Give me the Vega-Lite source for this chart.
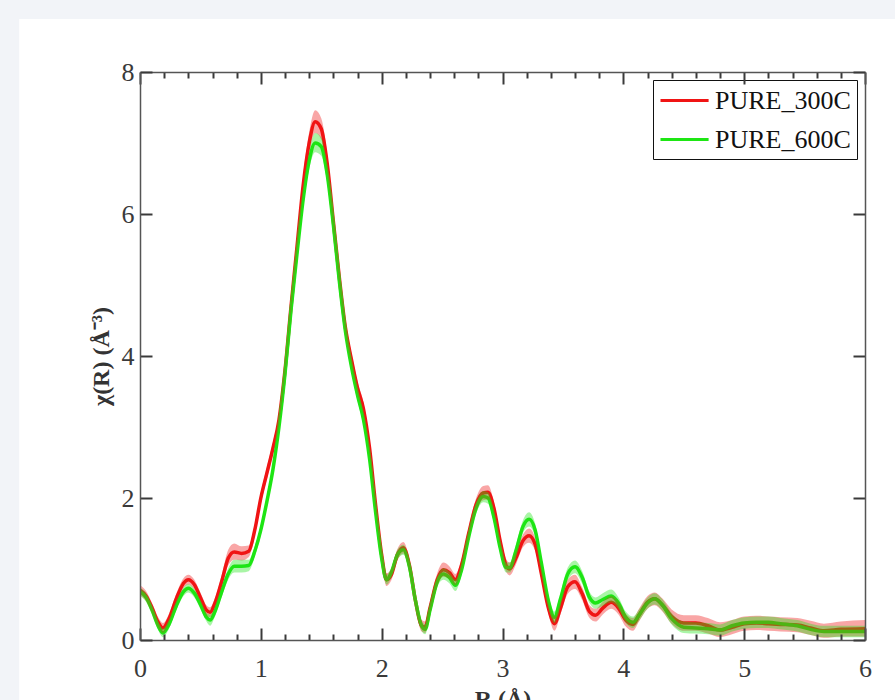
{
  "$schema": "https://vega.github.io/schema/vega-lite/v6.json",
  "autosize": "none",
  "width": 725,
  "height": 568,
  "padding": {"left": 140, "top": 72, "right": 30, "bottom": 60},
  "background": "#f2f4f8",
  "config": {
    "view": {"stroke": null},
    "font": "Liberation Serif",
    "axis": {
      "grid": false,
      "domainColor": "#555555",
      "domainWidth": 1.5,
      "tickColor": "#3a3a3a",
      "tickWidth": 2,
      "labelFont": "Liberation Serif",
      "labelFontSize": 26,
      "labelColor": "#3a3a3a",
      "labelFlush": false,
      "labelOverlap": false,
      "titleFont": "Liberation Serif",
      "titleFontWeight": "bold",
      "titleFontSize": 24,
      "titleColor": "#333333"
    },
    "legend": {
      "labelFont": "Liberation Serif",
      "labelFontSize": 26,
      "labelColor": "#111111"
    }
  },
  "datasets": {
    "panel": [{"x0": -1.0, "x1": 6.6, "y0": 8.746, "y1": -1.6}],
    "curves": [
      {"x": 0.00, "series": "PURE_300C", "y": 0.70, "lo": 0.63, "hi": 0.77},
      {"x": 0.05, "series": "PURE_300C", "y": 0.62, "lo": 0.55, "hi": 0.69},
      {"x": 0.10, "series": "PURE_300C", "y": 0.45, "lo": 0.38, "hi": 0.52},
      {"x": 0.15, "series": "PURE_300C", "y": 0.25, "lo": 0.18, "hi": 0.32},
      {"x": 0.19, "series": "PURE_300C", "y": 0.17, "lo": 0.10, "hi": 0.24},
      {"x": 0.24, "series": "PURE_300C", "y": 0.30, "lo": 0.23, "hi": 0.37},
      {"x": 0.30, "series": "PURE_300C", "y": 0.58, "lo": 0.51, "hi": 0.65},
      {"x": 0.36, "series": "PURE_300C", "y": 0.80, "lo": 0.73, "hi": 0.87},
      {"x": 0.40, "series": "PURE_300C", "y": 0.85, "lo": 0.78, "hi": 0.92},
      {"x": 0.45, "series": "PURE_300C", "y": 0.78, "lo": 0.71, "hi": 0.85},
      {"x": 0.50, "series": "PURE_300C", "y": 0.60, "lo": 0.53, "hi": 0.67},
      {"x": 0.55, "series": "PURE_300C", "y": 0.42, "lo": 0.35, "hi": 0.49},
      {"x": 0.58, "series": "PURE_300C", "y": 0.39, "lo": 0.32, "hi": 0.46},
      {"x": 0.62, "series": "PURE_300C", "y": 0.52, "lo": 0.45, "hi": 0.59},
      {"x": 0.68, "series": "PURE_300C", "y": 0.85, "lo": 0.76, "hi": 0.94},
      {"x": 0.73, "series": "PURE_300C", "y": 1.15, "lo": 1.05, "hi": 1.27},
      {"x": 0.78, "series": "PURE_300C", "y": 1.24, "lo": 1.13, "hi": 1.36},
      {"x": 0.84, "series": "PURE_300C", "y": 1.22, "lo": 1.12, "hi": 1.32},
      {"x": 0.90, "series": "PURE_300C", "y": 1.25, "lo": 1.17, "hi": 1.33},
      {"x": 0.95, "series": "PURE_300C", "y": 1.55, "lo": 1.47, "hi": 1.63},
      {"x": 1.00, "series": "PURE_300C", "y": 2.00, "lo": 1.92, "hi": 2.08},
      {"x": 1.05, "series": "PURE_300C", "y": 2.35, "lo": 2.27, "hi": 2.43},
      {"x": 1.10, "series": "PURE_300C", "y": 2.70, "lo": 2.62, "hi": 2.78},
      {"x": 1.15, "series": "PURE_300C", "y": 3.10, "lo": 3.02, "hi": 3.18},
      {"x": 1.20, "series": "PURE_300C", "y": 3.80, "lo": 3.71, "hi": 3.89},
      {"x": 1.25, "series": "PURE_300C", "y": 4.70, "lo": 4.60, "hi": 4.80},
      {"x": 1.30, "series": "PURE_300C", "y": 5.55, "lo": 5.44, "hi": 5.66},
      {"x": 1.35, "series": "PURE_300C", "y": 6.40, "lo": 6.28, "hi": 6.53},
      {"x": 1.40, "series": "PURE_300C", "y": 7.00, "lo": 6.86, "hi": 7.15},
      {"x": 1.45, "series": "PURE_300C", "y": 7.30, "lo": 7.14, "hi": 7.46},
      {"x": 1.50, "series": "PURE_300C", "y": 7.20, "lo": 7.05, "hi": 7.35},
      {"x": 1.55, "series": "PURE_300C", "y": 6.70, "lo": 6.57, "hi": 6.83},
      {"x": 1.60, "series": "PURE_300C", "y": 5.90, "lo": 5.79, "hi": 6.01},
      {"x": 1.65, "series": "PURE_300C", "y": 5.10, "lo": 5.00, "hi": 5.20},
      {"x": 1.70, "series": "PURE_300C", "y": 4.40, "lo": 4.31, "hi": 4.49},
      {"x": 1.75, "series": "PURE_300C", "y": 3.95, "lo": 3.86, "hi": 4.04},
      {"x": 1.80, "series": "PURE_300C", "y": 3.55, "lo": 3.46, "hi": 3.64},
      {"x": 1.85, "series": "PURE_300C", "y": 3.25, "lo": 3.16, "hi": 3.34},
      {"x": 1.90, "series": "PURE_300C", "y": 2.70, "lo": 2.62, "hi": 2.78},
      {"x": 1.95, "series": "PURE_300C", "y": 1.90, "lo": 1.82, "hi": 1.98},
      {"x": 2.00, "series": "PURE_300C", "y": 1.20, "lo": 1.12, "hi": 1.28},
      {"x": 2.04, "series": "PURE_300C", "y": 0.85, "lo": 0.76, "hi": 0.94},
      {"x": 2.08, "series": "PURE_300C", "y": 0.92, "lo": 0.84, "hi": 1.00},
      {"x": 2.13, "series": "PURE_300C", "y": 1.20, "lo": 1.12, "hi": 1.28},
      {"x": 2.18, "series": "PURE_300C", "y": 1.30, "lo": 1.22, "hi": 1.38},
      {"x": 2.23, "series": "PURE_300C", "y": 1.05, "lo": 0.97, "hi": 1.13},
      {"x": 2.28, "series": "PURE_300C", "y": 0.55, "lo": 0.47, "hi": 0.63},
      {"x": 2.33, "series": "PURE_300C", "y": 0.20, "lo": 0.12, "hi": 0.28},
      {"x": 2.36, "series": "PURE_300C", "y": 0.18, "lo": 0.10, "hi": 0.26},
      {"x": 2.40, "series": "PURE_300C", "y": 0.45, "lo": 0.37, "hi": 0.53},
      {"x": 2.46, "series": "PURE_300C", "y": 0.85, "lo": 0.76, "hi": 0.94},
      {"x": 2.51, "series": "PURE_300C", "y": 0.99, "lo": 0.89, "hi": 1.09},
      {"x": 2.56, "series": "PURE_300C", "y": 0.95, "lo": 0.86, "hi": 1.04},
      {"x": 2.61, "series": "PURE_300C", "y": 0.85, "lo": 0.77, "hi": 0.93},
      {"x": 2.66, "series": "PURE_300C", "y": 1.05, "lo": 0.97, "hi": 1.13},
      {"x": 2.72, "series": "PURE_300C", "y": 1.50, "lo": 1.42, "hi": 1.58},
      {"x": 2.78, "series": "PURE_300C", "y": 1.90, "lo": 1.81, "hi": 1.99},
      {"x": 2.84, "series": "PURE_300C", "y": 2.07, "lo": 1.97, "hi": 2.17},
      {"x": 2.88, "series": "PURE_300C", "y": 2.08, "lo": 1.98, "hi": 2.18},
      {"x": 2.93, "series": "PURE_300C", "y": 1.85, "lo": 1.76, "hi": 1.94},
      {"x": 2.98, "series": "PURE_300C", "y": 1.40, "lo": 1.32, "hi": 1.48},
      {"x": 3.03, "series": "PURE_300C", "y": 1.05, "lo": 0.96, "hi": 1.14},
      {"x": 3.06, "series": "PURE_300C", "y": 1.00, "lo": 0.91, "hi": 1.09},
      {"x": 3.11, "series": "PURE_300C", "y": 1.15, "lo": 1.06, "hi": 1.24},
      {"x": 3.17, "series": "PURE_300C", "y": 1.40, "lo": 1.31, "hi": 1.49},
      {"x": 3.22, "series": "PURE_300C", "y": 1.47, "lo": 1.37, "hi": 1.57},
      {"x": 3.27, "series": "PURE_300C", "y": 1.35, "lo": 1.26, "hi": 1.44},
      {"x": 3.32, "series": "PURE_300C", "y": 0.95, "lo": 0.87, "hi": 1.03},
      {"x": 3.38, "series": "PURE_300C", "y": 0.45, "lo": 0.37, "hi": 0.53},
      {"x": 3.43, "series": "PURE_300C", "y": 0.23, "lo": 0.13, "hi": 0.33},
      {"x": 3.48, "series": "PURE_300C", "y": 0.45, "lo": 0.36, "hi": 0.54},
      {"x": 3.54, "series": "PURE_300C", "y": 0.75, "lo": 0.65, "hi": 0.85},
      {"x": 3.60, "series": "PURE_300C", "y": 0.82, "lo": 0.72, "hi": 0.92},
      {"x": 3.66, "series": "PURE_300C", "y": 0.65, "lo": 0.56, "hi": 0.74},
      {"x": 3.72, "series": "PURE_300C", "y": 0.40, "lo": 0.31, "hi": 0.49},
      {"x": 3.77, "series": "PURE_300C", "y": 0.35, "lo": 0.26, "hi": 0.44},
      {"x": 3.83, "series": "PURE_300C", "y": 0.45, "lo": 0.36, "hi": 0.54},
      {"x": 3.90, "series": "PURE_300C", "y": 0.53, "lo": 0.44, "hi": 0.62},
      {"x": 3.96, "series": "PURE_300C", "y": 0.45, "lo": 0.36, "hi": 0.54},
      {"x": 4.02, "series": "PURE_300C", "y": 0.28, "lo": 0.19, "hi": 0.37},
      {"x": 4.08, "series": "PURE_300C", "y": 0.22, "lo": 0.13, "hi": 0.31},
      {"x": 4.13, "series": "PURE_300C", "y": 0.35, "lo": 0.26, "hi": 0.44},
      {"x": 4.20, "series": "PURE_300C", "y": 0.53, "lo": 0.44, "hi": 0.62},
      {"x": 4.26, "series": "PURE_300C", "y": 0.58, "lo": 0.49, "hi": 0.67},
      {"x": 4.32, "series": "PURE_300C", "y": 0.50, "lo": 0.41, "hi": 0.59},
      {"x": 4.40, "series": "PURE_300C", "y": 0.33, "lo": 0.23, "hi": 0.43},
      {"x": 4.50, "series": "PURE_300C", "y": 0.24, "lo": 0.13, "hi": 0.35},
      {"x": 4.60, "series": "PURE_300C", "y": 0.24, "lo": 0.13, "hi": 0.35},
      {"x": 4.70, "series": "PURE_300C", "y": 0.20, "lo": 0.09, "hi": 0.31},
      {"x": 4.80, "series": "PURE_300C", "y": 0.14, "lo": 0.04, "hi": 0.25},
      {"x": 4.90, "series": "PURE_300C", "y": 0.18, "lo": 0.08, "hi": 0.28},
      {"x": 5.00, "series": "PURE_300C", "y": 0.23, "lo": 0.13, "hi": 0.33},
      {"x": 5.10, "series": "PURE_300C", "y": 0.24, "lo": 0.14, "hi": 0.34},
      {"x": 5.20, "series": "PURE_300C", "y": 0.23, "lo": 0.13, "hi": 0.33},
      {"x": 5.30, "series": "PURE_300C", "y": 0.22, "lo": 0.12, "hi": 0.32},
      {"x": 5.44, "series": "PURE_300C", "y": 0.21, "lo": 0.11, "hi": 0.31},
      {"x": 5.55, "series": "PURE_300C", "y": 0.17, "lo": 0.07, "hi": 0.27},
      {"x": 5.66, "series": "PURE_300C", "y": 0.13, "lo": 0.03, "hi": 0.23},
      {"x": 5.80, "series": "PURE_300C", "y": 0.15, "lo": 0.05, "hi": 0.26},
      {"x": 6.00, "series": "PURE_300C", "y": 0.16, "lo": 0.05, "hi": 0.28},
      {"x": 0.00, "series": "PURE_600C", "y": 0.68, "lo": 0.62, "hi": 0.74},
      {"x": 0.05, "series": "PURE_600C", "y": 0.60, "lo": 0.54, "hi": 0.66},
      {"x": 0.10, "series": "PURE_600C", "y": 0.42, "lo": 0.36, "hi": 0.48},
      {"x": 0.15, "series": "PURE_600C", "y": 0.20, "lo": 0.14, "hi": 0.26},
      {"x": 0.19, "series": "PURE_600C", "y": 0.10, "lo": 0.04, "hi": 0.16},
      {"x": 0.24, "series": "PURE_600C", "y": 0.22, "lo": 0.16, "hi": 0.28},
      {"x": 0.30, "series": "PURE_600C", "y": 0.48, "lo": 0.42, "hi": 0.54},
      {"x": 0.36, "series": "PURE_600C", "y": 0.68, "lo": 0.62, "hi": 0.74},
      {"x": 0.40, "series": "PURE_600C", "y": 0.73, "lo": 0.67, "hi": 0.79},
      {"x": 0.45, "series": "PURE_600C", "y": 0.66, "lo": 0.60, "hi": 0.72},
      {"x": 0.50, "series": "PURE_600C", "y": 0.50, "lo": 0.44, "hi": 0.56},
      {"x": 0.55, "series": "PURE_600C", "y": 0.32, "lo": 0.26, "hi": 0.38},
      {"x": 0.58, "series": "PURE_600C", "y": 0.28, "lo": 0.20, "hi": 0.36},
      {"x": 0.62, "series": "PURE_600C", "y": 0.40, "lo": 0.33, "hi": 0.47},
      {"x": 0.68, "series": "PURE_600C", "y": 0.70, "lo": 0.63, "hi": 0.77},
      {"x": 0.73, "series": "PURE_600C", "y": 0.93, "lo": 0.85, "hi": 1.01},
      {"x": 0.78, "series": "PURE_600C", "y": 1.04, "lo": 0.95, "hi": 1.13},
      {"x": 0.84, "series": "PURE_600C", "y": 1.04, "lo": 0.95, "hi": 1.13},
      {"x": 0.90, "series": "PURE_600C", "y": 1.05, "lo": 0.97, "hi": 1.13},
      {"x": 0.95, "series": "PURE_600C", "y": 1.25, "lo": 1.18, "hi": 1.32},
      {"x": 1.00, "series": "PURE_600C", "y": 1.55, "lo": 1.48, "hi": 1.62},
      {"x": 1.05, "series": "PURE_600C", "y": 1.95, "lo": 1.88, "hi": 2.02},
      {"x": 1.10, "series": "PURE_600C", "y": 2.40, "lo": 2.33, "hi": 2.47},
      {"x": 1.15, "series": "PURE_600C", "y": 3.00, "lo": 2.93, "hi": 3.07},
      {"x": 1.20, "series": "PURE_600C", "y": 3.75, "lo": 3.67, "hi": 3.83},
      {"x": 1.25, "series": "PURE_600C", "y": 4.65, "lo": 4.56, "hi": 4.74},
      {"x": 1.30, "series": "PURE_600C", "y": 5.45, "lo": 5.35, "hi": 5.55},
      {"x": 1.35, "series": "PURE_600C", "y": 6.20, "lo": 6.09, "hi": 6.31},
      {"x": 1.40, "series": "PURE_600C", "y": 6.75, "lo": 6.63, "hi": 6.88},
      {"x": 1.45, "series": "PURE_600C", "y": 7.00, "lo": 6.87, "hi": 7.14},
      {"x": 1.50, "series": "PURE_600C", "y": 6.95, "lo": 6.82, "hi": 7.08},
      {"x": 1.55, "series": "PURE_600C", "y": 6.55, "lo": 6.43, "hi": 6.67},
      {"x": 1.60, "series": "PURE_600C", "y": 5.85, "lo": 5.75, "hi": 5.95},
      {"x": 1.65, "series": "PURE_600C", "y": 5.05, "lo": 4.96, "hi": 5.14},
      {"x": 1.70, "series": "PURE_600C", "y": 4.35, "lo": 4.27, "hi": 4.43},
      {"x": 1.75, "series": "PURE_600C", "y": 3.85, "lo": 3.77, "hi": 3.93},
      {"x": 1.80, "series": "PURE_600C", "y": 3.45, "lo": 3.37, "hi": 3.53},
      {"x": 1.85, "series": "PURE_600C", "y": 3.10, "lo": 3.02, "hi": 3.18},
      {"x": 1.90, "series": "PURE_600C", "y": 2.55, "lo": 2.48, "hi": 2.62},
      {"x": 1.95, "series": "PURE_600C", "y": 1.80, "lo": 1.73, "hi": 1.87},
      {"x": 2.00, "series": "PURE_600C", "y": 1.15, "lo": 1.08, "hi": 1.22},
      {"x": 2.04, "series": "PURE_600C", "y": 0.85, "lo": 0.78, "hi": 0.92},
      {"x": 2.08, "series": "PURE_600C", "y": 0.95, "lo": 0.88, "hi": 1.02},
      {"x": 2.13, "series": "PURE_600C", "y": 1.20, "lo": 1.13, "hi": 1.27},
      {"x": 2.18, "series": "PURE_600C", "y": 1.27, "lo": 1.20, "hi": 1.34},
      {"x": 2.23, "series": "PURE_600C", "y": 1.03, "lo": 0.96, "hi": 1.10},
      {"x": 2.28, "series": "PURE_600C", "y": 0.55, "lo": 0.48, "hi": 0.62},
      {"x": 2.33, "series": "PURE_600C", "y": 0.20, "lo": 0.13, "hi": 0.27},
      {"x": 2.36, "series": "PURE_600C", "y": 0.15, "lo": 0.08, "hi": 0.22},
      {"x": 2.40, "series": "PURE_600C", "y": 0.42, "lo": 0.35, "hi": 0.49},
      {"x": 2.46, "series": "PURE_600C", "y": 0.82, "lo": 0.75, "hi": 0.89},
      {"x": 2.51, "series": "PURE_600C", "y": 0.93, "lo": 0.85, "hi": 1.01},
      {"x": 2.56, "series": "PURE_600C", "y": 0.88, "lo": 0.80, "hi": 0.96},
      {"x": 2.61, "series": "PURE_600C", "y": 0.77, "lo": 0.69, "hi": 0.85},
      {"x": 2.66, "series": "PURE_600C", "y": 0.98, "lo": 0.91, "hi": 1.05},
      {"x": 2.72, "series": "PURE_600C", "y": 1.45, "lo": 1.38, "hi": 1.52},
      {"x": 2.78, "series": "PURE_600C", "y": 1.85, "lo": 1.77, "hi": 1.93},
      {"x": 2.84, "series": "PURE_600C", "y": 2.02, "lo": 1.94, "hi": 2.10},
      {"x": 2.88, "series": "PURE_600C", "y": 2.00, "lo": 1.92, "hi": 2.08},
      {"x": 2.93, "series": "PURE_600C", "y": 1.72, "lo": 1.64, "hi": 1.80},
      {"x": 2.98, "series": "PURE_600C", "y": 1.30, "lo": 1.23, "hi": 1.37},
      {"x": 3.03, "series": "PURE_600C", "y": 1.02, "lo": 0.95, "hi": 1.09},
      {"x": 3.06, "series": "PURE_600C", "y": 1.02, "lo": 0.95, "hi": 1.09},
      {"x": 3.11, "series": "PURE_600C", "y": 1.25, "lo": 1.17, "hi": 1.33},
      {"x": 3.17, "series": "PURE_600C", "y": 1.60, "lo": 1.51, "hi": 1.69},
      {"x": 3.22, "series": "PURE_600C", "y": 1.70, "lo": 1.60, "hi": 1.80},
      {"x": 3.27, "series": "PURE_600C", "y": 1.55, "lo": 1.46, "hi": 1.64},
      {"x": 3.32, "series": "PURE_600C", "y": 1.10, "lo": 1.02, "hi": 1.18},
      {"x": 3.38, "series": "PURE_600C", "y": 0.55, "lo": 0.47, "hi": 0.63},
      {"x": 3.43, "series": "PURE_600C", "y": 0.32, "lo": 0.24, "hi": 0.40},
      {"x": 3.48, "series": "PURE_600C", "y": 0.58, "lo": 0.50, "hi": 0.66},
      {"x": 3.54, "series": "PURE_600C", "y": 0.93, "lo": 0.84, "hi": 1.02},
      {"x": 3.60, "series": "PURE_600C", "y": 1.03, "lo": 0.94, "hi": 1.12},
      {"x": 3.66, "series": "PURE_600C", "y": 0.88, "lo": 0.79, "hi": 0.97},
      {"x": 3.72, "series": "PURE_600C", "y": 0.60, "lo": 0.52, "hi": 0.68},
      {"x": 3.77, "series": "PURE_600C", "y": 0.52, "lo": 0.44, "hi": 0.60},
      {"x": 3.83, "series": "PURE_600C", "y": 0.57, "lo": 0.48, "hi": 0.66},
      {"x": 3.90, "series": "PURE_600C", "y": 0.62, "lo": 0.53, "hi": 0.71},
      {"x": 3.96, "series": "PURE_600C", "y": 0.52, "lo": 0.44, "hi": 0.60},
      {"x": 4.02, "series": "PURE_600C", "y": 0.32, "lo": 0.24, "hi": 0.40},
      {"x": 4.08, "series": "PURE_600C", "y": 0.25, "lo": 0.17, "hi": 0.33},
      {"x": 4.13, "series": "PURE_600C", "y": 0.35, "lo": 0.27, "hi": 0.43},
      {"x": 4.20, "series": "PURE_600C", "y": 0.52, "lo": 0.44, "hi": 0.60},
      {"x": 4.26, "series": "PURE_600C", "y": 0.58, "lo": 0.50, "hi": 0.66},
      {"x": 4.32, "series": "PURE_600C", "y": 0.50, "lo": 0.42, "hi": 0.58},
      {"x": 4.40, "series": "PURE_600C", "y": 0.30, "lo": 0.22, "hi": 0.38},
      {"x": 4.50, "series": "PURE_600C", "y": 0.18, "lo": 0.10, "hi": 0.26},
      {"x": 4.60, "series": "PURE_600C", "y": 0.17, "lo": 0.09, "hi": 0.25},
      {"x": 4.70, "series": "PURE_600C", "y": 0.16, "lo": 0.08, "hi": 0.24},
      {"x": 4.80, "series": "PURE_600C", "y": 0.14, "lo": 0.06, "hi": 0.22},
      {"x": 4.90, "series": "PURE_600C", "y": 0.20, "lo": 0.12, "hi": 0.28},
      {"x": 5.00, "series": "PURE_600C", "y": 0.24, "lo": 0.16, "hi": 0.32},
      {"x": 5.10, "series": "PURE_600C", "y": 0.25, "lo": 0.17, "hi": 0.33},
      {"x": 5.20, "series": "PURE_600C", "y": 0.25, "lo": 0.17, "hi": 0.33},
      {"x": 5.30, "series": "PURE_600C", "y": 0.23, "lo": 0.15, "hi": 0.31},
      {"x": 5.44, "series": "PURE_600C", "y": 0.20, "lo": 0.12, "hi": 0.28},
      {"x": 5.55, "series": "PURE_600C", "y": 0.15, "lo": 0.07, "hi": 0.23},
      {"x": 5.66, "series": "PURE_600C", "y": 0.12, "lo": 0.04, "hi": 0.20},
      {"x": 5.80, "series": "PURE_600C", "y": 0.12, "lo": 0.04, "hi": 0.20},
      {"x": 6.00, "series": "PURE_600C", "y": 0.12, "lo": 0.04, "hi": 0.20}
    ]
  },
  "resolve": {"axis": {"x": "independent", "y": "independent"}},
  "layer": [
    {
      "data": {"name": "panel"},
      "mark": {"type": "rect", "fill": "white", "clip": false},
      "encoding": {
        "x": {"field": "x0", "type": "quantitative", "scale": {"domain": [0, 6], "nice": false, "zero": false}, "axis": null},
        "x2": {"field": "x1"},
        "y": {"field": "y0", "type": "quantitative", "scale": {"domain": [0, 8], "nice": false, "zero": false}, "axis": null},
        "y2": {"field": "y1"}
      }
    },
    {
      "data": {"name": "curves"},
      "mark": {"type": "line", "strokeWidth": 3.5, "interpolate": "monotone", "clip": true},
      "encoding": {
        "x": {
          "field": "x", "type": "quantitative",
          "axis": {
            "orient": "bottom",
            "zindex": 2,
            "values": [0, 1, 2, 3, 4, 5, 6],
            "format": "d",
            "ticks": false,
            "domain": false,
            "labelOverlap": false,
            "labelPadding": 15,
            "labelBaseline": "top",
            "title": "R (Å)",
            "titlePadding": 6
          }
        },
        "y": {
          "field": "y", "type": "quantitative",
          "axis": {
            "orient": "left",
            "zindex": 2,
            "values": [0, 2, 4, 6, 8],
            "format": "d",
            "tickSize": -12,
            "labelPadding": 18,
            "title": "χ(R) (Å⁻³)",
            "titlePadding": 8
          }
        },
        "color": {
          "field": "series", "type": "nominal",
          "scale": {"domain": ["PURE_300C", "PURE_600C"], "range": ["#f01414", "#1ee614"]},
          "legend": {
            "title": null,
            "orient": "top-right",
            "offset": 8,
            "symbolType": "M-1,0H2.7",
            "symbolSize": 676,
            "symbolStrokeWidth": 3,
            "labelOffset": 27,
            "rowPadding": 11,
            "padding": 6,
            "strokeColor": "#111111",
            "fillColor": "white"
          }
        }
      }
    },
    {
      "data": {"name": "curves"},
      "mark": {"type": "area", "opacity": 0.38, "interpolate": "monotone", "clip": true},
      "encoding": {
        "x": {
          "field": "x", "type": "quantitative",
          "axis": {
            "orient": "top",
            "zindex": 2,
            "values": [0,0.2,0.4,0.6,0.8,1,1.2,1.4,1.6,1.8,2,2.2,2.4,2.6,2.8,3,3.2,3.4,3.6,3.8,4,4.2,4.4,4.6,4.8,5,5.2,5.4,5.6,5.8,6],
            "labels": false,
            "title": null,
            "tickSize": {"condition": {"test": "datum.value % 1 === 0", "value": -12}, "value": -6}
          }
        },
        "y": {
          "field": "lo", "type": "quantitative",
          "axis": {
            "orient": "right",
            "zindex": 2,
            "values": [0, 2, 4, 6, 8],
            "labels": false,
            "title": null,
            "tickSize": -12
          }
        },
        "y2": {"field": "hi"},
        "color": {"field": "series", "type": "nominal", "legend": null}
      }
    },
    {
      "data": {"name": "curves"},
      "mark": {"type": "point", "opacity": 0, "clip": true},
      "encoding": {
        "x": {
          "field": "x", "type": "quantitative",
          "axis": {
            "orient": "bottom",
            "zindex": 2,
            "values": [0,0.2,0.4,0.6,0.8,1,1.2,1.4,1.6,1.8,2,2.2,2.4,2.6,2.8,3,3.2,3.4,3.6,3.8,4,4.2,4.4,4.6,4.8,5,5.2,5.4,5.6,5.8,6],
            "labels": false,
            "title": null,
            "tickSize": {"condition": {"test": "datum.value % 1 === 0", "value": -12}, "value": -6}
          }
        },
        "y": {"field": "y", "type": "quantitative", "axis": null}
      }
    }
  ]
}
